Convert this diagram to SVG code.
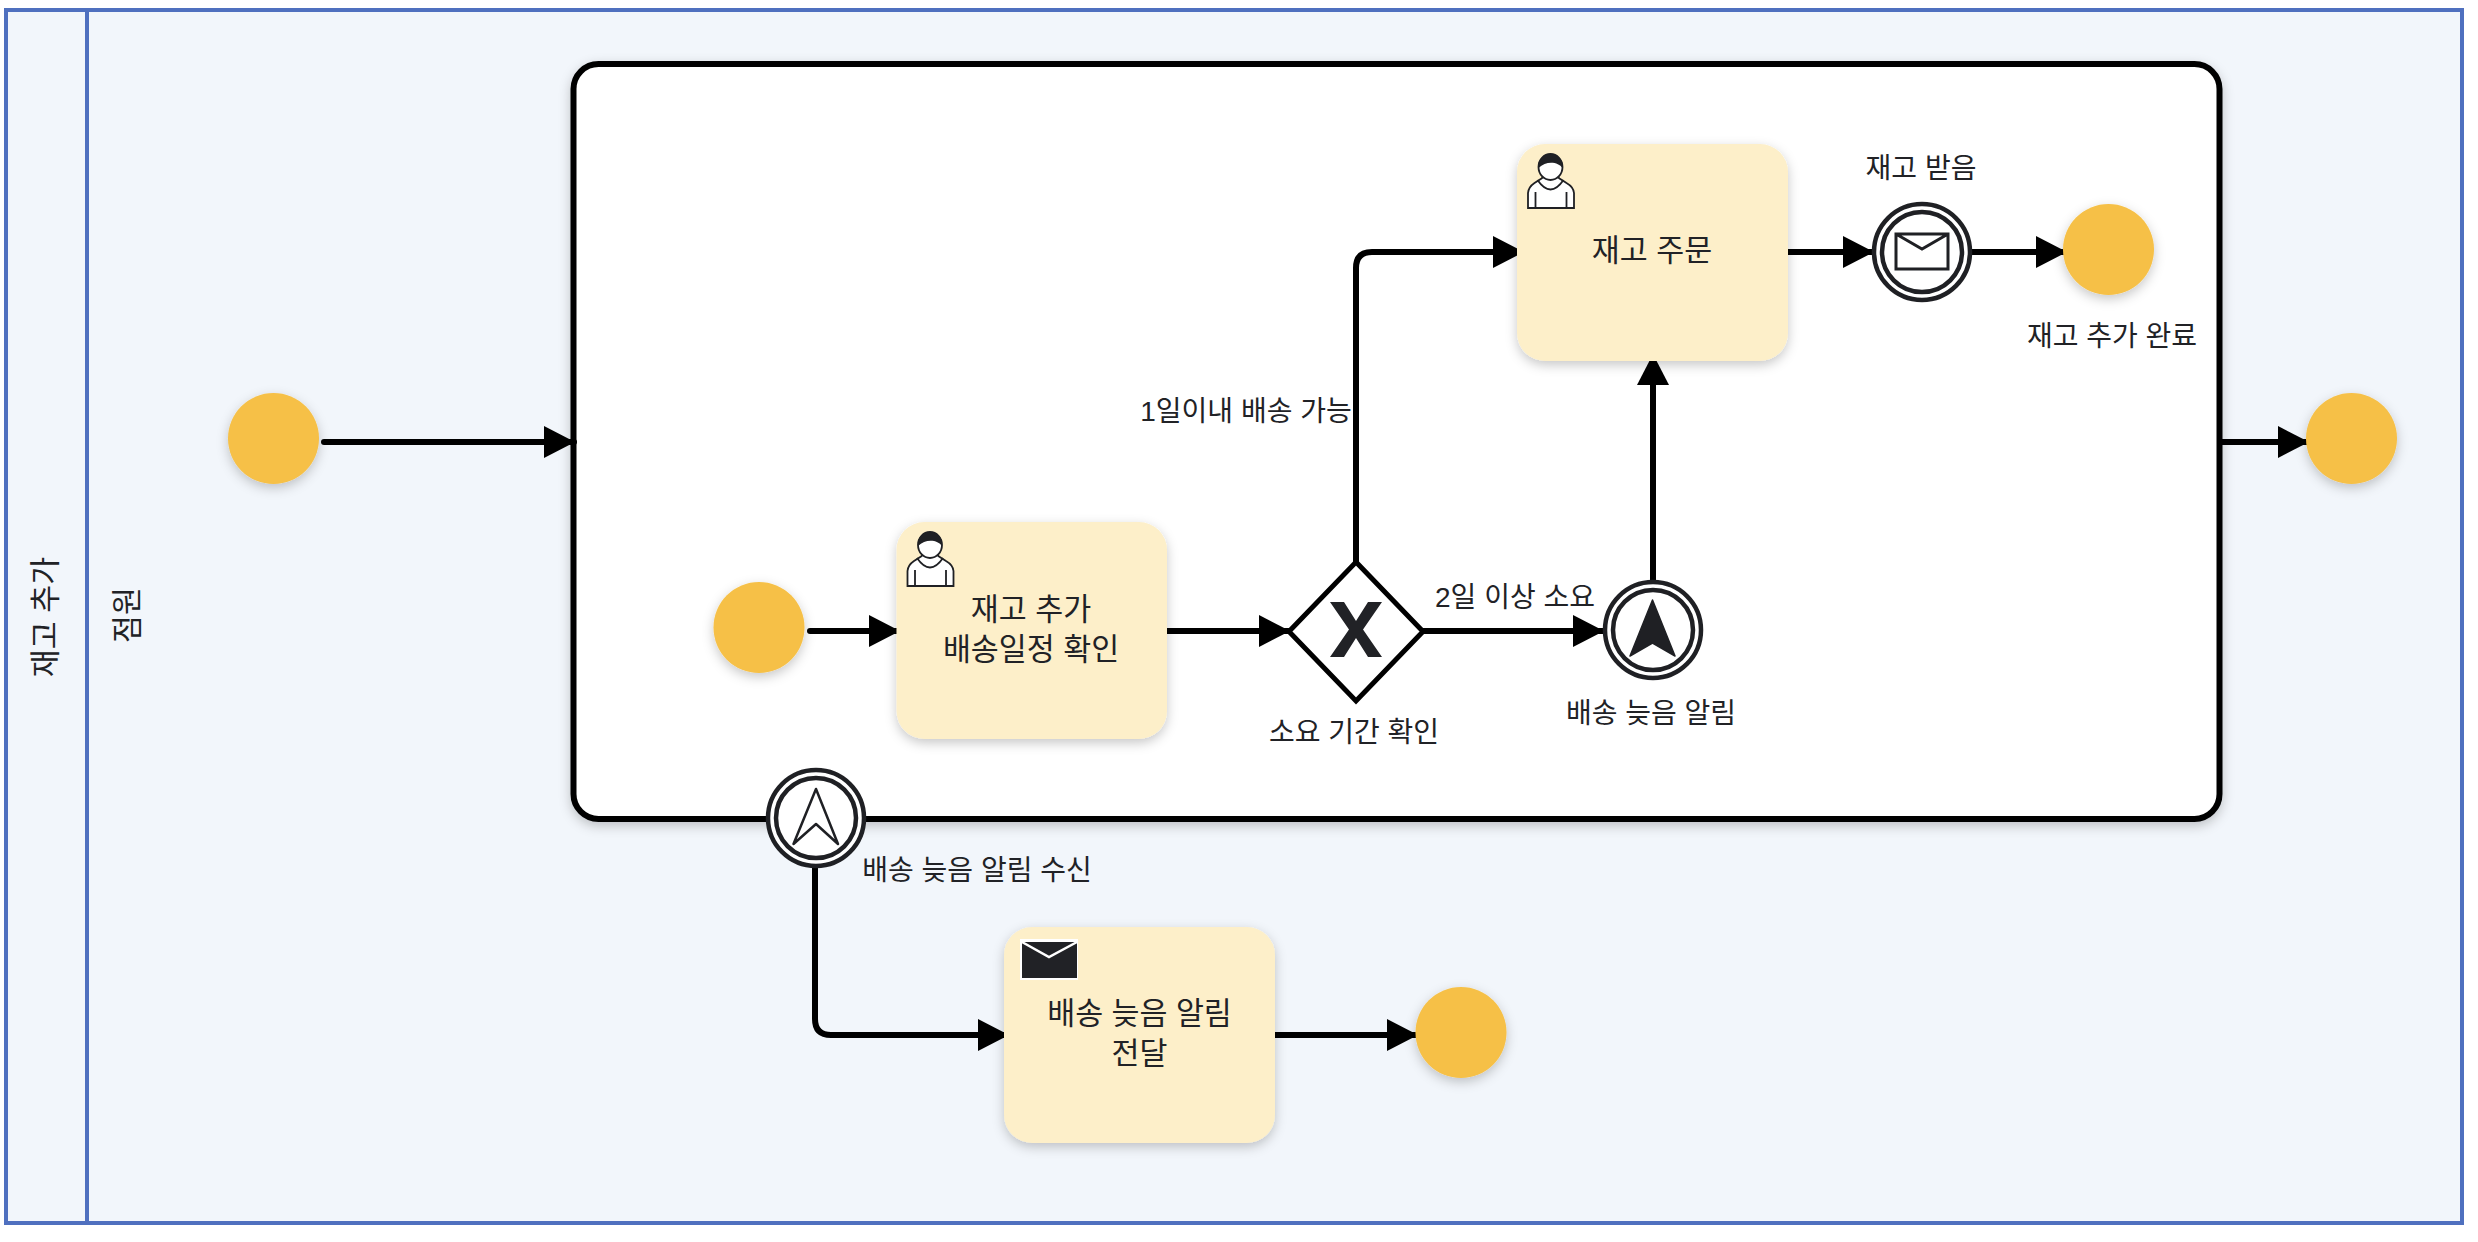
<svg xmlns="http://www.w3.org/2000/svg" xmlns:xlink="http://www.w3.org/1999/xlink" width="2478" height="1242" viewBox="0 0 2478 1242">
<style>
text{font-family:"Liberation Sans","Noto Sans CJK KR",sans-serif;fill:#212226;text-anchor:middle;dominant-baseline:central}
.l{font-size:28px}
.t{font-size:30.4px}
.pool{fill:#f2f6fb;stroke:#4f70bf;stroke-width:4}
.task{fill:#fdefc9;filter:url(#sh)}
.end{fill:#f6c047;filter:url(#sh)}
.ev{fill:#fff;stroke:#1f2024;stroke-width:4.5}
.cn{fill:none;stroke:#000;stroke-width:6;stroke-linecap:round;stroke-linejoin:round;marker-end:url(#ah)}
</style>
<defs>
<filter id="sh" x="-20%" y="-20%" width="140%" height="145%"><feDropShadow dx="0" dy="4" stdDeviation="6" flood-color="#000" flood-opacity="0.22"/></filter>
<marker id="ah" markerUnits="userSpaceOnUse" markerWidth="36" markerHeight="36" refX="32" refY="17" orient="auto"><path d="M2 1 L33 17 L2 33Z" fill="#000"/></marker>
<g id="user">
<path d="M907.5 586 V571 Q908 565 914 561 L921 556.5 L925 553 H935 L939 556.5 L946 561 Q953 565 953.5 571 V586Z" fill="#fff" stroke="#1f2024" stroke-width="1.8"/>
<path d="M917 558 Q930 577 943 558" fill="none" stroke="#1f2024" stroke-width="1.8"/>
<path d="M915 570 V586 M946 570 V586" fill="none" stroke="#1f2024" stroke-width="1.8"/>
<ellipse cx="930" cy="545" rx="12" ry="13" fill="#fff" stroke="#1f2024" stroke-width="1.8"/>
<path d="M918 546 C915 528 945 528 942 546 C938 540 926 538 918 546Z" fill="#1f2024"/>
</g>
</defs>
<g id="pool">
<rect class="pool" x="6" y="10" width="2456" height="1213"/>
<path d="M87 10 V1223" fill="none" stroke="#4f70bf" stroke-width="4"/>
<text class="t" transform="translate(45 617) rotate(-90)">재고 추가</text>
<text class="t" transform="translate(127 615) rotate(-90)">점원</text>
</g>
<g id="subprocess">
<rect x="573.5" y="64" width="1646" height="755" rx="25" fill="#fff" stroke="#000" stroke-width="6" filter="url(#sh)"/>
</g>
<g id="connectors">
<path class="cn" d="M324 442 H574"/>
<path class="cn" d="M2222 442 H2308"/>
<path class="cn" d="M810 631 H899"/>
<path class="cn" d="M1167 631 H1289"/>
<path class="cn" d="M1423 631 H1603"/>
<path class="cn" d="M1356 562 V268 Q1356 252 1372 252 H1523"/>
<path class="cn" d="M1653 580 V355"/>
<path class="cn" d="M1788 252 H1873"/>
<path class="cn" d="M1971 252 H2066"/>
<path class="cn" d="M815 868 V1019 Q815 1035 831 1035 H1008"/>
<path class="cn" d="M1275 1035 H1417"/>
</g>
<g id="start-outer"><circle class="end" cx="273.5" cy="438.5" r="45.5"/></g>
<g id="end-outer"><circle class="end" cx="2351.5" cy="438.5" r="45.5"/></g>
<g id="start-inner"><circle class="end" cx="759" cy="627.5" r="45.5"/></g>
<g id="task-check">
<rect class="task" x="896.5" y="522" width="270.5" height="217" rx="28"/>
<use href="#user"/>
<text class="t" x="1031" y="609">재고 추가</text>
<text class="t" x="1031" y="649">배송일정 확인</text>
</g>
<g id="gateway">
<path d="M1356 562 L1423 631.5 L1356 701 L1289 631.5Z" fill="#fff" stroke="#000" stroke-width="5"/>
<path d="M1330 602 H1344 L1356 621 L1368 602 H1382 L1363 629.5 L1382 657 H1368 L1356 638 L1344 657 H1330 L1349 629.5Z" fill="#212226"/>
<text class="l" x="1354" y="732">소요 기간 확인</text>
</g>
<g id="event-late">
<circle class="ev" cx="1653" cy="630" r="48"/>
<circle class="ev" cx="1653" cy="630" r="40"/>
<path d="M1652.5 600 L1675 656 L1652.5 643 L1630 656Z" fill="#1f2024" stroke="#1f2024" stroke-width="1.5" stroke-linejoin="round"/>
<text class="l" x="1651" y="713">배송 늦음 알림</text>
</g>
<g id="task-order">
<rect class="task" x="1517" y="144" width="271" height="217" rx="28"/>
<use href="#user" transform="translate(620.5 -378)"/>
<text class="t" x="1652" y="250">재고 주문</text>
</g>
<g id="event-received">
<circle class="ev" cx="1922" cy="252" r="48"/>
<circle class="ev" cx="1922" cy="252" r="40"/>
<path d="M1896 234 H1948 V269 H1896Z M1896 234 L1922 249 L1948 234" fill="none" stroke="#1f2024" stroke-width="3"/>
<text class="l" x="1921" y="168">재고 받음</text>
</g>
<g id="end-stock">
<circle class="end" cx="2108.5" cy="249.5" r="45.5"/>
<text class="l" x="2112" y="336">재고 추가 완료</text>
</g>
<g id="event-boundary">
<circle class="ev" cx="816" cy="818" r="48"/>
<circle class="ev" cx="816" cy="818" r="40"/>
<path d="M816 789 L838 844 L816 824 L793.5 844Z" fill="#fff" stroke="#1f2024" stroke-width="2.5" stroke-linejoin="round"/>
<text class="l" x="977" y="870">배송 늦음 알림 수신</text>
</g>
<g id="task-send">
<rect class="task" x="1004" y="927" width="271" height="216" rx="28"/>
<rect x="1020" y="939" width="58" height="41" fill="#fff"/>
<rect x="1022" y="942" width="55" height="36" fill="#212226"/>
<path d="M1022 942 L1049 957 L1077 942" fill="none" stroke="#fff" stroke-width="2.5"/>
<text class="t" x="1139.5" y="1013">배송 늦음 알림</text>
<text class="t" x="1139.5" y="1053">전달</text>
</g>
<g id="end-send"><circle class="end" cx="1461" cy="1032.5" r="45.5"/></g>
<g id="flow-labels">
<text class="l" x="1246" y="411">1일이내 배송 가능</text>
<text class="l" x="1515" y="597">2일 이상 소요</text>
</g>
</svg>
